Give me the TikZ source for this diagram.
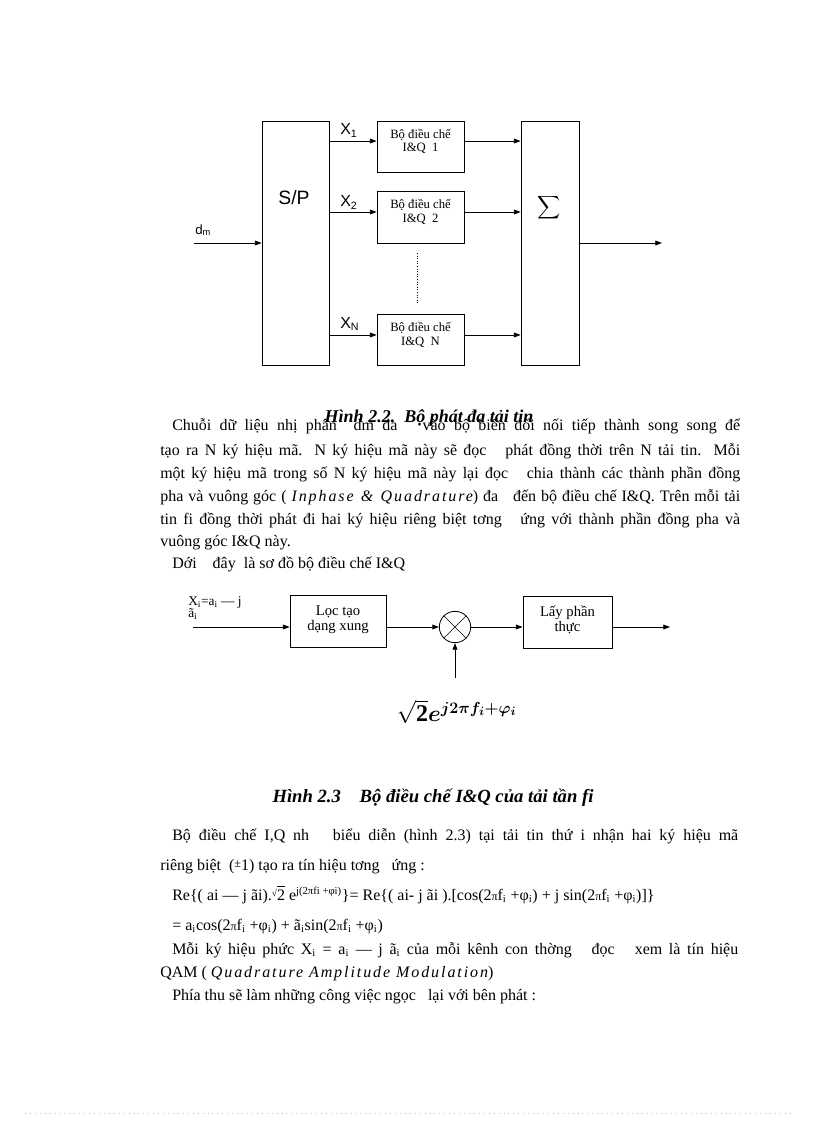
\documentclass[tikz,border=0pt]{standalone}
\usepackage{amsmath,bm}
\usepackage{fontspec}
\setmainfont{Liberation Serif}
\newfontfamily\arial{Liberation Sans}
\newfontfamily\spit[LetterSpace=12]{Liberation Serif}
\usetikzlibrary{arrows.meta}
\newcommand\jline[2]{\hbox to #1{#2}}
\begin{document}
\begin{tikzpicture}[x=0.75pt,y=-0.75pt,
  box/.style={draw, line width=0.6pt, inner sep=0pt},
  arr/.style={-{Triangle[length=5pt,width=3.6pt]}, line width=0.6pt},
  txt/.style={anchor=base west, inner sep=0pt, font=\fontsize{12}{14}\selectfont},
  captxt/.style={anchor=base, inner sep=0pt, font=\fontsize{13.5}{15}\selectfont\bfseries\itshape},
  lbl/.style={anchor=base west, inner sep=0pt, font=\arial\fontsize{12}{14}\selectfont},
  iqtext/.style={inner sep=0pt, align=center, font=\fontsize{9.5}{10}\selectfont}]
\useasboundingbox (0,0) rectangle (816,1123);
\fill[white] (0,0) rectangle (816,1123);

% ---------------- Figure 2.2 ----------------
\node[box, minimum width=50.25pt, minimum height=183pt] (sp) at (295.5,243) {};
\node[inner sep=0pt, font=\arial\fontsize{14.5}{16}\selectfont] (splbl) at (294,198) {S/P};
\node[box, minimum width=65.25pt, minimum height=38.25pt] (iq1) at (420.5,146.5) {};
\node[box, minimum width=65.25pt, minimum height=39pt] (iq2) at (420.5,217) {};
\node[box, minimum width=65.25pt, minimum height=38.25pt] (iqN) at (420.5,339.5) {};
\node[iqtext] (iq1t) at (420.5,141.5) {Bộ điều chế\\I\&Q\ \ 1};
\node[iqtext] (iq2t) at (420.5,212) {Bộ điều chế\\I\&Q\ \ 2};
\node[iqtext] (iqNt) at (420.5,335) {Bộ điều chế\\I\&Q\ \ N};
\node[box, minimum width=43.5pt, minimum height=183pt] (sum) at (550,243) {};
\node[inner sep=0pt, font=\fontsize{12.5}{14}\selectfont] (sumlbl) at (549,208) {$\displaystyle\sum$};

\coordinate (din) at (194,243);
\coordinate (dout) at (662,243);
\coordinate (a1) at ([yshift=4.1pt]iq1.west);
\coordinate (a2) at ([yshift=3.75pt]iq2.west);
\coordinate (aN) at ([yshift=3.4pt]iqN.west);
\coordinate (b1o) at ([yshift=4.1pt]iq1.east);
\coordinate (b2o) at ([yshift=3.75pt]iq2.east);
\coordinate (bNo) at ([yshift=3.4pt]iqN.east);
\node[anchor=base west, inner sep=0pt, font=\arial\fontsize{10}{12}\selectfont] (dm) at (195,234) {d\textsubscript{m}};
\node[lbl] (x1) at (340,135) {X\textsubscript{1}};
\node[lbl] (x2) at (340,207) {X\textsubscript{2}};
\node[lbl] (xN) at (340,328) {X\textsubscript{N}};

\draw[arr] (din) -- (sp.west);
\draw[arr] (sp.east |- a1) -- (a1);
\draw[arr] (sp.east |- a2) -- (a2);
\draw[arr] (sp.east |- aN) -- (aN);
\draw[arr] (b1o) -- (sum.west |- b1o);
\draw[arr] (b2o) -- (sum.west |- b2o);
\draw[arr] (bNo) -- (sum.west |- bNo);
\draw[arr] (sum.east) -- (dout);
\coordinate (dot1) at (417,253);
\coordinate (dot2) at (417,303);
\draw[line width=0.5pt, dash pattern=on 0.75pt off 1.2pt] (dot1) -- (dot2);

% ---------------- Paragraph 1 ----------------
\node[txt] (p1) at (172,430) {\jline{426pt}{Chuỗi dữ liệu nhị phân\ \ dm đa\ \ \ vào bộ biến đổi nối tiếp thành song song để}};
\node[captxt] (cap1) at (429,422) {Hình 2.2.\ \ Bộ phát đa tải tin};
\node[txt] (p2) at (160,455) {\jline{435pt}{tạo ra N ký hiệu mã. N ký hiệu mã này sẽ đọc\ \ \ phát đồng thời trên N tải tin. Mỗi}};
\node[txt] (p3) at (160,478) {\jline{435pt}{một ký hiệu mã trong số N ký hiệu mã này lại đọc\ \ \ chia thành các thành phần đồng}};
\node[txt] (p4) at (160,501) {\jline{435pt}{pha và vuông góc ( {\spit\itshape Inphase \& Quadrature}) đa\ \ \ đến bộ điều chế I\&Q. Trên mỗi tải}};
\node[txt] (p5) at (160,524) {\jline{435pt}{tin fi đồng thời phát đi hai ký hiệu riêng biệt tơng\ \ \ ứng với thành phần đồng pha và}};
\node[txt] (p6) at (160,546) {vuông góc I\&Q này.};
\node[txt] (p7) at (172,568) {Dới\ \ \ \ đây\ \ là sơ đồ bộ điều chế I\&Q};

% ---------------- Figure 2.3 ----------------
\node[anchor=base west, inner sep=0pt, font=\fontsize{10}{11}\selectfont] (xin1) at (188,605) {X\textsubscript{i}=a\textsubscript{i} — j};
\node[anchor=base west, inner sep=0pt, font=\fontsize{10}{11}\selectfont] (xin2) at (188,617) {ã\textsubscript{i}};
\coordinate (xin) at (193,627);
\node[box, minimum width=72pt, minimum height=39pt] (loc) at (338,621) {};
\node[inner sep=0pt, align=center, font=\fontsize{11}{11.5}\selectfont] (loct) at (338,619.5) {Lọc tạo\\dạng xung};
\node[draw, circle, line width=0.6pt, minimum size=23.5pt, inner sep=0pt] (mix) at (455,627) {};
\draw[line width=0.5pt] (mix.north west) -- (mix.south east) (mix.north east) -- (mix.south west);
\node[box, minimum width=66.75pt, minimum height=39pt] (lay) at (567.5,622) {};
\node[inner sep=0pt, align=center, font=\fontsize{11}{11.5}\selectfont] (layt) at (567.5,620) {Lấy phần\\thực};
\coordinate (yout) at (670,627);
\coordinate (lo) at (455,678);
\coordinate (lin) at ([yshift=-4.5pt]loc.west);
\coordinate (lout) at ([yshift=-4.5pt]loc.east);
\coordinate (rin) at ([yshift=-3.75pt]lay.west);
\coordinate (rout) at ([yshift=-3.75pt]lay.east);
\draw[arr] (xin) -- (lin);
\draw[arr] (lout) -- (mix.west);
\draw[arr] (mix.east) -- (rin);
\draw[arr] (rout) -- (yout);
\draw[arr] (lo) -- (mix.south);
\node[inner sep=0pt, font=\fontsize{18}{20}\selectfont] (osc) at (457,712) {$\sqrt{\mathbf{2}}\bm{e}^{\bm{j2\pi f_i+\varphi_i}}$};

\node[captxt, font=\fontsize{14}{16}\selectfont\bfseries\itshape] (cap2) at (433,802) {Hình 2.3\ \ \ \ Bộ điều chế I\&Q của tải tần fi};

% ---------------- Paragraph 2 ----------------
\node[txt] (q1) at (172,840) {\jline{424.5pt}{Bộ điều chế I,Q nh\ \ \ biểu diễn (hình 2.3) tại tải tin thứ i nhận hai ký hiệu mã}};
\node[txt] (q2) at (160,870) {riêng biệt\ \ ({\raisebox{2pt}{\small ±}}1) tạo ra tín hiệu tơng\ \ \ ứng :};
\node[txt] (q3) at (172,900) {Re\{( ai — j ãi).{\raisebox{3pt}{\scriptsize √}}\makebox[0pt][l]{\raisebox{10pt}{\rule{6pt}{0.5pt}}}2 e\textsuperscript{j(2πfi +φi)}\}= Re\{( ai- j ãi ).[cos(2{\small π}f\textsubscript{i} +φ\textsubscript{i}) + j sin(2{\small π}f\textsubscript{i} +φ\textsubscript{i})]\}};
\node[txt] (q4) at (172,930) {= a\textsubscript{i}cos(2{\small π}f\textsubscript{i} +φ\textsubscript{i}) + ã\textsubscript{i}sin(2{\small π}f\textsubscript{i} +φ\textsubscript{i})};
\node[txt] (q5) at (172,954) {\jline{424.5pt}{Mỗi ký hiệu phức X\textsubscript{i} = a\textsubscript{i} — j ã\textsubscript{i} của mỗi kênh con thờng\ \ \ đọc\ \ \ xem là tín hiệu}};
\node[txt] (q6) at (160,977) {QAM ( {\spit\itshape Quadrature Amplitude Modulation})};
\node[txt] (q7) at (172,1000) {Phía thu sẽ làm những công việc ngọc\ \ \ lại với bên phát :};

% bottom dotted rule
\coordinate (b1) at (25,1113);
\coordinate (b2) at (792,1113);
\draw[gray!50, line width=0.4pt, dash pattern=on 0.6pt off 3.1pt] (b1) -- (b2);
\end{tikzpicture}
\end{document}
